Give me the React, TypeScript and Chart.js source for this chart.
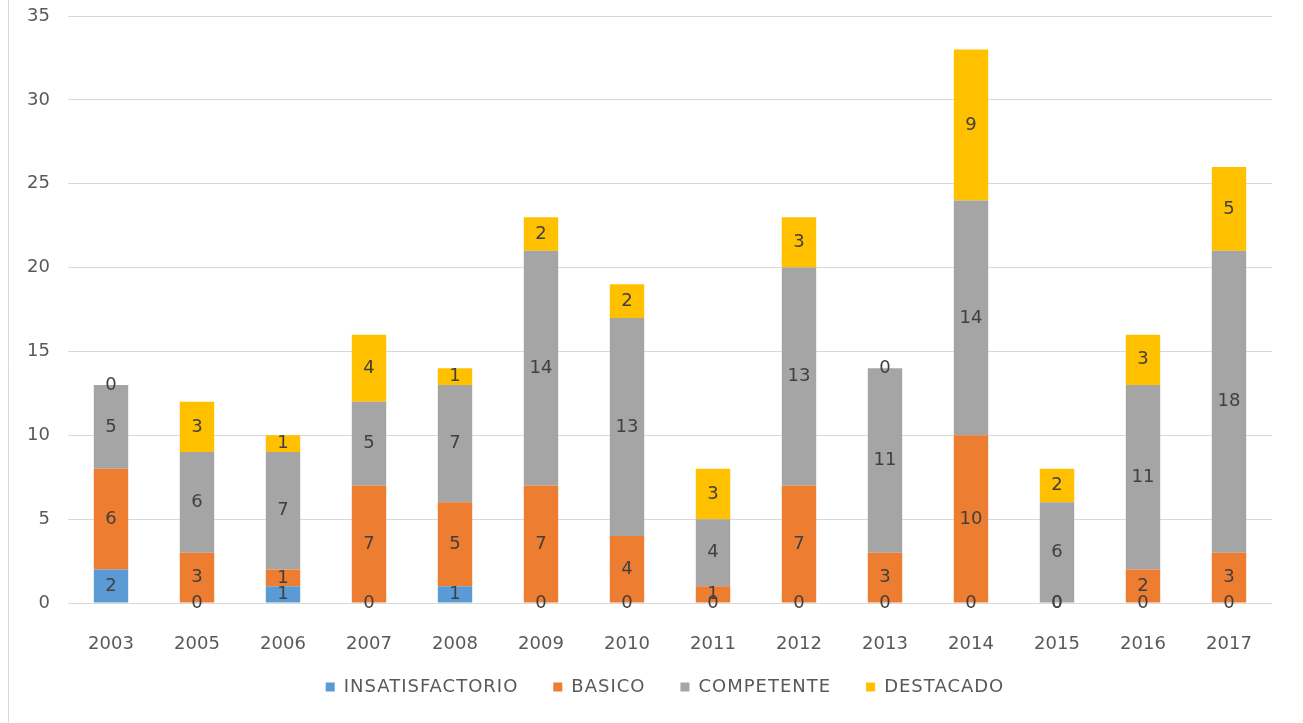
import React, { useEffect, useRef } from "react";
import { Chart, registerables } from "chart.js";

Chart.register(...registerables);

const categories = ["2003", "2005", "2006", "2007", "2008", "2009", "2010", "2011", "2012", "2013", "2014", "2015", "2016", "2017"];
const insatisfactorio = [2, 0, 1, 0, 1, 0, 0, 0, 0, 0, 0, 0, 0, 0];
const basico = [6, 3, 1, 7, 5, 7, 4, 1, 7, 3, 10, 0, 2, 3];
const competente = [5, 6, 7, 5, 7, 14, 13, 4, 13, 11, 14, 6, 11, 18];
const destacado = [0, 3, 1, 4, 1, 2, 2, 3, 3, 0, 9, 2, 3, 5];
const seriesNames = ["INSATISFACTORIO", "BASICO", "COMPETENTE", "DESTACADO"];
const seriesColors = ["#5B9BD5", "#ED7D31", "#A5A5A5", "#FFC000"];

const FONT = "'DejaVu Sans', sans-serif";

const backgroundPlugin = {
  id: "bgFrame",
  beforeDraw(chart: any) {
    const { ctx, width, height } = chart;
    ctx.save();
    ctx.fillStyle = "#ffffff";
    ctx.fillRect(0, 0, width, height);
    ctx.strokeStyle = "#d9d9d9";
    ctx.lineWidth = 1;
    ctx.beginPath();
    ctx.moveTo(8.5, 0);
    ctx.lineTo(8.5, height);
    ctx.stroke();
    ctx.restore();
  },
};

const dataLabelPlugin = {
  id: "dataLabels",
  afterDatasetsDraw(chart: any) {
    const { ctx } = chart;
    ctx.save();
    ctx.font = `18px ${FONT}`;
    ctx.fillStyle = "#404040";
    ctx.textAlign = "center";
    ctx.textBaseline = "middle";
    chart.data.datasets.forEach((ds: any, i: number) => {
      const meta = chart.getDatasetMeta(i);
      meta.data.forEach((el: any, j: number) => {
        const y = (el.y + el.base) / 2;
        ctx.fillText(String(ds.data[j]), el.x, y);
      });
    });
    ctx.restore();
  },
};

const legendPlugin = {
  id: "customLegend",
  afterDraw(chart: any) {
    const { ctx } = chart;
    ctx.save();
    ctx.font = `18px ${FONT}`;
    try { (ctx as any).letterSpacing = "1px"; } catch (e) {}
    const box = 9;
    const boxGap = 9;
    const itemGap = 35;
    const widths = seriesNames.map((n) => ctx.measureText(n).width);
    const total = widths.reduce((a, w) => a + box + boxGap + w, 0) + itemGap * (seriesNames.length - 1);
    let x = 665 - total / 2;
    const y = 687;
    ctx.textBaseline = "middle";
    ctx.textAlign = "left";
    seriesNames.forEach((n, i) => {
      ctx.fillStyle = seriesColors[i];
      ctx.fillRect(x, y - box / 2, box, box);
      x += box + boxGap;
      ctx.fillStyle = "#595959";
      ctx.fillText(n, x, y);
      x += widths[i] + itemGap;
    });
    ctx.restore();
  },
};

export default function App() {
  const ref = useRef<HTMLCanvasElement | null>(null);

  useEffect(() => {
    if (!ref.current) return;
    const values = [insatisfactorio, basico, competente, destacado];
    const chart = new Chart(ref.current, {
      type: "bar",
      data: {
        labels: categories,
        datasets: seriesNames.map((name, i) => ({
          label: name,
          data: values[i],
          backgroundColor: seriesColors[i],
          borderWidth: 0,
          barPercentage: 0.4,
          categoryPercentage: 1,
        })),
      },
      options: {
        animation: false,
        responsive: false,
        layout: { padding: { top: 16, right: 31, left: 0, bottom: 0 } },
        plugins: {
          legend: { display: false },
          tooltip: { enabled: false },
        },
        scales: {
          x: {
            stacked: true,
            grid: { display: false },
            border: { display: false },
            ticks: {
              font: { family: FONT, size: 18 },
              color: "#595959",
              padding: 23,
              maxRotation: 0,
            },
            afterFit(scale: any) {
              scale.height = 120;
              scale.paddingLeft = 0;
              scale.paddingRight = 0;
            },
          },
          y: {
            stacked: true,
            min: 0,
            max: 35,
            ticks: {
              stepSize: 5,
              font: { family: FONT, size: 18 },
              color: "#595959",
              padding: 18,
            },
            grid: { color: "#d9d9d9", drawTicks: false },
            border: { display: false },
            afterFit(scale: any) {
              scale.width = 68;
              scale.paddingTop = 0;
              scale.paddingBottom = 0;
            },
          },
        },
      },
      plugins: [backgroundPlugin, dataLabelPlugin, legendPlugin],
    });
    return () => chart.destroy();
  }, []);

  return (
    <div style={{ position: "fixed", left: 0, top: 0, width: 1303, height: 723 }}>
      <canvas ref={ref} width={1303} height={723} style={{ width: 1303, height: 723 }} />
    </div>
  );
}
